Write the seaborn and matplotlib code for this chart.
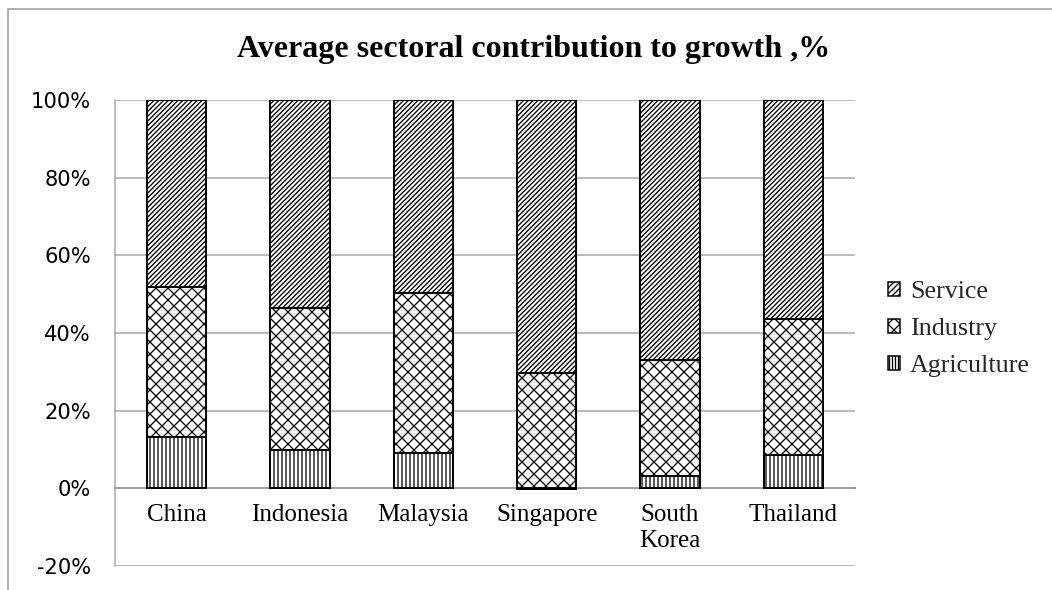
import matplotlib
matplotlib.use("Agg")
import matplotlib.pyplot as plt
from matplotlib.patches import Patch, Rectangle
import numpy as np
import pandas as pd
import seaborn as sns

# Average sectoral contribution to growth (% of total)
countries = ["China", "Indonesia", "Malaysia", "Singapore", "South Korea", "Thailand"]
tick_labels = ["China", "Indonesia", "Malaysia", "Singapore", "South\nKorea", "Thailand"]
agriculture = [13.1, 9.8, 9.1, -0.3, 3.3, 8.5]
industry = [38.8, 36.7, 41.1, 29.6, 29.8, 35.2]
service = [48.1, 53.5, 49.8, 70.4, 66.9, 56.3]
y_ticks = [-20, 0, 20, 40, 60, 80, 100]

DPI = 72
sns.set_theme(style="white")
plt.rcParams["hatch.linewidth"] = 1.3

fig = plt.figure(figsize=(1052 / DPI, 590 / DPI), dpi=DPI)
fig.patch.set_facecolor("white")
ax = fig.add_axes([115 / 1052, 1 - 566 / 590, 740 / 1052, 466 / 590])
ax.set_facecolor("white")

agri = np.array(agriculture)
ind = np.array(industry)
serv = np.array(service)
# stacked tops: negatives stack below zero, positives above
ind_top = np.clip(agri, 0, None) + ind
serv_top = ind_top + serv

df = pd.DataFrame({"country": countries, "serv_top": serv_top,
                   "ind_top": ind_top, "agri": agri})

bar_kw = dict(color="white", edgecolor="black", linewidth=2,
              width=0.48, errorbar=None, saturation=1, ax=ax)
sns.barplot(data=df, x="country", y="serv_top", hatch="/////", **bar_kw)
sns.barplot(data=df, x="country", y="ind_top", hatch="xx", **bar_kw)
sns.barplot(data=df, x="country", y="agri", hatch="|||", **bar_kw)

# horizontal category axis sits on the zero line
ax.spines["bottom"].set_position(("data", 0))

ax.set_ylim(-20, 100)
ax.set_xlim(-0.5, len(countries) - 0.5)
ax.set_yticks(y_ticks)
ax.set_yticklabels([f"{t}%" for t in y_ticks], fontsize=21,
                   family="DejaVu Sans", color="black")
ax.set_xticks(range(len(countries)))
ax.set_xticklabels(tick_labels, fontsize=25, family="Liberation Serif",
                   color="black", linespacing=1.2)
ax.set_xlabel("")
ax.set_ylabel("")

ax.yaxis.grid(True, color="#a6a6a6", linewidth=1.5, zorder=0)
ax.set_axisbelow(True)
ax.tick_params(axis="both", length=0)
ax.tick_params(axis="y", pad=24)
ax.tick_params(axis="x", pad=16)

for side in ["top", "right"]:
    ax.spines[side].set_visible(False)
ax.spines["left"].set_color("#a6a6a6")
ax.spines["left"].set_linewidth(1.5)
ax.spines["bottom"].set_color("#8c8c8c")
ax.spines["bottom"].set_linewidth(2)
ax.spines["bottom"].set_zorder(0.5)

fig.text(0.507, 1 - 50 / 590, "Average sectoral contribution to growth ,%",
         ha="center", va="center", fontsize=32, fontweight="bold",
         family="Liberation Serif", color="black")

handles = [Patch(facecolor="white", edgecolor="black", linewidth=1.5, hatch="////", label="Service"),
           Patch(facecolor="white", edgecolor="black", linewidth=1.5, hatch="xx", label="Industry"),
           Patch(facecolor="white", edgecolor="black", linewidth=1.5, hatch="||||", label="Agriculture")]
fig.legend(handles=handles, loc="center left",
           bbox_to_anchor=(888 / 1052, 1 - 329 / 590), frameon=False,
           prop={"family": "Liberation Serif", "size": 26},
           handlelength=0.45, handleheight=0.45, handletextpad=0.4,
           labelspacing=0.58, borderpad=0, borderaxespad=0)

# chart area border
fig.patches.append(Rectangle((8 / 1052, -0.5), 2, 0.5 + (1 - 9 / 590),
                             transform=fig.transFigure, fill=False,
                             edgecolor="#9a9a9a", linewidth=1.5))

fig.savefig("out.png", dpi=DPI, facecolor="white")
